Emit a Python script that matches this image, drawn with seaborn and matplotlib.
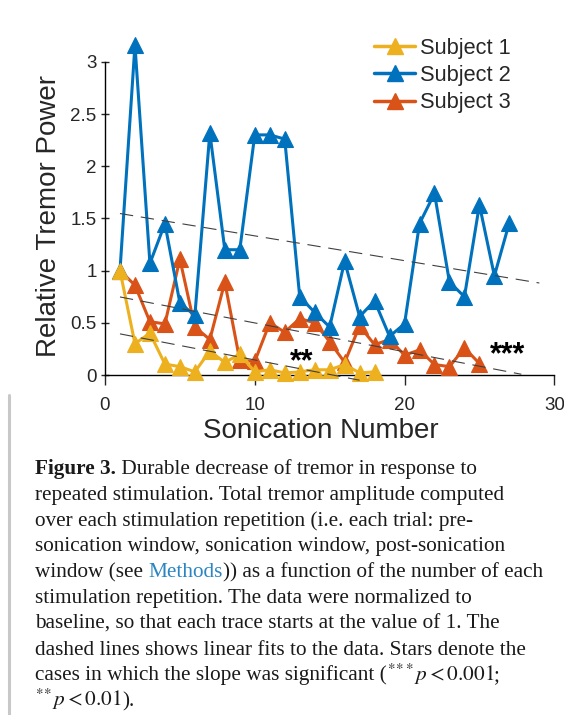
import numpy as np
import pandas as pd
import matplotlib
matplotlib.use("Agg")
import matplotlib.pyplot as plt
import seaborn as sns
from matplotlib.lines import Line2D

# ---------------- data ----------------
subjects = ["Subject 1", "Subject 2", "Subject 3"]
subj1 = [1.00, 0.30, 0.40, 0.105, 0.08, 0.03, 0.23, 0.12, 0.20, 0.03, 0.05, 0.02,
         0.03, 0.05, 0.05, 0.10, 0.02, 0.03]
subj2 = [1.00, 3.16, 1.07, 1.45, 0.69, 0.57, 2.32, 1.20, 1.20, 2.30, 2.30, 2.26,
         0.75, 0.60, 0.46, 1.09, 0.56, 0.71, 0.37, 0.49, 1.45, 1.74, 0.89, 0.75,
         1.63, 0.95, 1.46]
subj3 = [1.00, 0.86, 0.51, 0.49, 1.11, 0.46, 0.34, 0.89, 0.14, 0.13, 0.50, 0.41,
         0.54, 0.50, 0.32, 0.12, 0.47, 0.29, 0.34, 0.19, 0.24, 0.10, 0.08, 0.26,
         0.11]
fit_x_end = [17.0, 29.0, 27.8]
star_labels = ["**", "***"]
star_x = [13.1, 26.85]
star_y = [0.05, 0.11]
x_ticks = [0, 10, 20, 30]
y_ticks = [0, 0.5, 1, 1.5, 2, 2.5, 3]

caption_lines = [
    [("Figure 3.", "bold"), (" Durable decrease of tremor in response to", "normal")],
    [("repeated stimulation. Total tremor amplitude computed", "normal")],
    [("over each stimulation repetition (i.e. each trial: pre-", "normal")],
    [("sonication window, sonication window, post-sonication", "normal")],
    [("window (see ", "normal"), ("Methods", "link"), (")) as a function of the number of each", "normal")],
    [("stimulation repetition. The data were normalized to", "normal")],
    [("baseline, so that each trace starts at the value of 1. The", "normal")],
    [("dashed lines shows linear fits to the data. Stars denote the", "normal")],
    [("cases in which the slope was significant (", "normal"), (r"$^{*\!*\!*}p<0.001$", "math"), (";", "normal")],
    [(r"$^{*\!*}p<0.01$", "math"), (").", "normal")],
]

colors = {"Subject 1": "#EDB120", "Subject 2": "#0072BD", "Subject 3": "#D95319"}
zorders = {"Subject 1": 6, "Subject 2": 5, "Subject 3": 4}

frames = []
for name, vals in zip(subjects, [subj1, subj2, subj3]):
    frames.append(pd.DataFrame({"Sonication": np.arange(1, len(vals) + 1),
                                "Power": vals, "Subject": name}))
df = pd.concat(frames, ignore_index=True)

# ---------------- figure ----------------
sns.set_style("white")
plt.rcParams["font.family"] = ["Liberation Sans", "DejaVu Sans"]
plt.rcParams["mathtext.fontset"] = "stix"

W, H = 564, 715
fig = plt.figure(figsize=(W / 100, H / 100), dpi=100)
ax = fig.add_axes([105 / W, 1 - 375 / H, 449.3 / W, 344.5 / H])

for name in subjects:
    d = df[df["Subject"] == name]
    sns.lineplot(data=d, x="Sonication", y="Power", ax=ax, color=colors[name],
                 marker="^", markersize=11.5, linewidth=2.2,
                 markeredgecolor=colors[name], markeredgewidth=0.8,
                 zorder=zorders[name], clip_on=False, legend=False)

# linear fits
for name, xe in zip(subjects, fit_x_end):
    d = df[df["Subject"] == name]
    k, b = np.polyfit(d["Sonication"], d["Power"], 1)
    xs = np.array([1.0, xe])
    ax.plot(xs, k * xs + b, color="0.25", linewidth=0.8, dashes=(12, 7),
            zorder=7, clip_on=False)

for lab, sx, sy in zip(star_labels, star_x, star_y):
    ax.text(sx, sy, lab, ha="center", va="baseline", fontsize=22,
            fontweight="bold", color="black", zorder=8)

ax.set_xlim(0, 30)
ax.set_ylim(0, 3.3)
ax.set_xticks(x_ticks)
ax.set_xticklabels([str(t) for t in x_ticks])
ax.set_yticks(y_ticks)
ax.set_yticklabels(["0", "0.5", "1", "1.5", "2", "2.5", "3"])
ax.set_xlabel("")
ax.set_ylabel("")
for s in ["top", "right"]:
    ax.spines[s].set_visible(False)
ax.spines["left"].set_bounds(0, 3)
for s in ["left", "bottom"]:
    ax.spines[s].set_color("black")
    ax.spines[s].set_linewidth(1.0)
ax.tick_params(axis="y", direction="inout", length=6, width=1.0, labelsize=13.5,
               pad=3, left=True)
ax.tick_params(axis="x", direction="out", length=7, width=1.0, labelsize=13.5,
               pad=9, bottom=True)
ax.patch.set_visible(False)

ax.text(-0.125, 0.462, "Relative Tremor Power", rotation=90, ha="center",
        va="center", fontsize=20, transform=ax.transAxes)
fig.text(321 / W, 1 - 431 / H, "Sonication Number", ha="center", va="center",
         fontsize=20)

handles = [Line2D([0], [0], color=colors[n], marker="^", markersize=11.5,
                  linewidth=2.5, markeredgecolor=colors[n]) for n in subjects]
fig.legend(handles, subjects, loc="upper left",
           bbox_to_anchor=(374 / W, 1 - 38 / H), frameon=False, fontsize=15.7,
           handlelength=1.9, handletextpad=0.2, borderpad=0, borderaxespad=0,
           labelspacing=0.28)

# ---------------- caption ----------------
fig.add_artist(Line2D([9 / W, 9 / W], [0, 1 - 395 / H], color="#c8c8c8",
                      linewidth=2.2))

renderer = fig.canvas.get_renderer()
cap_fs = 15.3
x0 = 35
base0 = 474
step = 25.8
for i, pieces in enumerate(caption_lines):
    x = x0
    yb = base0 + i * step
    for txt, style in pieces:
        kw = dict(fontsize=cap_fs, family=["Liberation Serif", "DejaVu Serif"],
                  va="baseline", ha="left", color="#1a1a1a")
        if style == "bold":
            kw["fontweight"] = "bold"
        elif style == "link":
            kw["color"] = "#2a86c2"
        t = fig.text(x / W, 1 - yb / H, txt, **kw)
        bb = t.get_window_extent(renderer=renderer)
        x += bb.width

fig.savefig("out.png", dpi=100)
